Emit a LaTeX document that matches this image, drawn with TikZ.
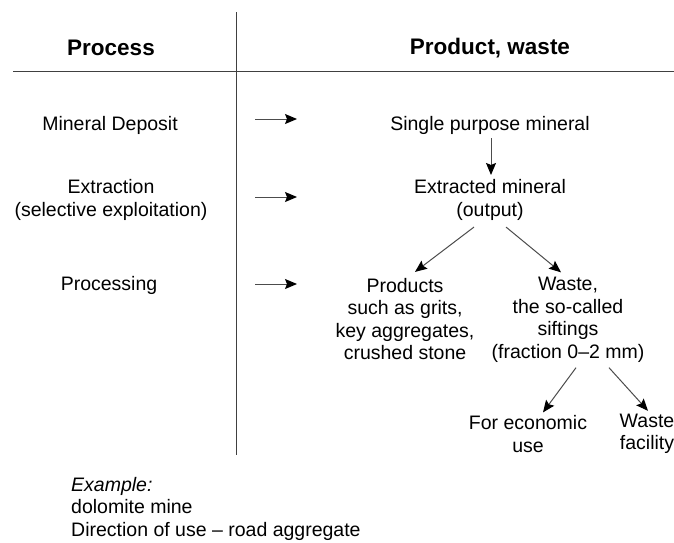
\documentclass[tikz,border=0pt]{standalone}
\usepackage{fontspec}
\setmainfont{Liberation Sans}
\usetikzlibrary{arrows.meta}
\begin{document}
\begin{tikzpicture}[x=1pt,y=-1pt,
  txt/.style={font=\fontsize{19.5}{22.5}\selectfont, align=center, inner sep=0pt},
  hdr/.style={font=\fontsize{22.5}{26}\selectfont\bfseries, inner sep=0pt},
  arr/.style={draw=black!70, line width=1pt, -{Stealth[length=12pt,width=10pt,inset=2pt,color=black]}},
  rule/.style={draw=black!75, line width=1pt}]
\useasboundingbox (0,0) rectangle (674,542);
\fill[white] (0,0) rectangle (674,542);
% table rules
\coordinate (vt) at (236,12); \coordinate (vb) at (236,455);
\coordinate (hl) at (13,71);  \coordinate (hr) at (674,71);
\draw[rule] (vt) -- (vb);
\draw[rule] (hl) -- (hr);
% headers
\node[hdr] (hp) at (111,48) {Process};
\node[hdr] (hw) at (490,48) {Product, waste};
% process column
\node[txt] (md) at (110,125) {Mineral Deposit};
\node[txt] (ex) at (111,200) {Extraction\\(selective exploitation)};
\node[txt] (pr) at (109,285) {Processing};
% left arrows
\coordinate (a1s) at (255,119); \coordinate (a1e) at (297,119);
\coordinate (a2s) at (255,197); \coordinate (a2e) at (297,197);
\coordinate (a3s) at (255,284); \coordinate (a3e) at (297,284);
\draw[arr] (a1s) -- (a1e);
\draw[arr] (a2s) -- (a2e);
\draw[arr] (a3s) -- (a3e);
% product column
\node[txt] (sp) at (490,125) {Single purpose mineral};
\node[txt] (em) at (490,200) {Extracted mineral\\(output)};
\node[txt] (prod) at (405,319) {Products\\such as grits,\\key aggregates,\\crushed stone};
\node[txt] (wst) at (568,320) {Waste,\\the so-called\\siftings\\(fraction 0--2 mm)};
\node[txt] (eco) at (528,434) {For economic\\use};
\node[txt] (wf) at (647,434) {Waste\\facility};
% connectors
\draw[arr] ([xshift=1pt,yshift=-4pt]sp.south) -- ([xshift=1pt,yshift=4.5pt]em.north);
\draw[arr] ([xshift=-16pt,yshift=-6.5pt]em.south) -- ([xshift=10pt,yshift=6pt]prod.north);
\draw[arr] ([xshift=16pt,yshift=-6.5pt]em.south) -- ([xshift=-7pt,yshift=5pt]wst.north);
\draw[arr] ([xshift=8pt,yshift=-5pt]wst.south) -- ([xshift=15pt,yshift=3pt]eco.north);
\draw[arr] ([xshift=41pt,yshift=-5pt]wst.south) -- ([xshift=1pt,yshift=3pt]wf.north);
% example
\node[txt, align=left, anchor=north west] (exm) at (71,477) {\textit{Example:}\\dolomite mine\\Direction of use -- road aggregate};
\end{tikzpicture}
\end{document}
